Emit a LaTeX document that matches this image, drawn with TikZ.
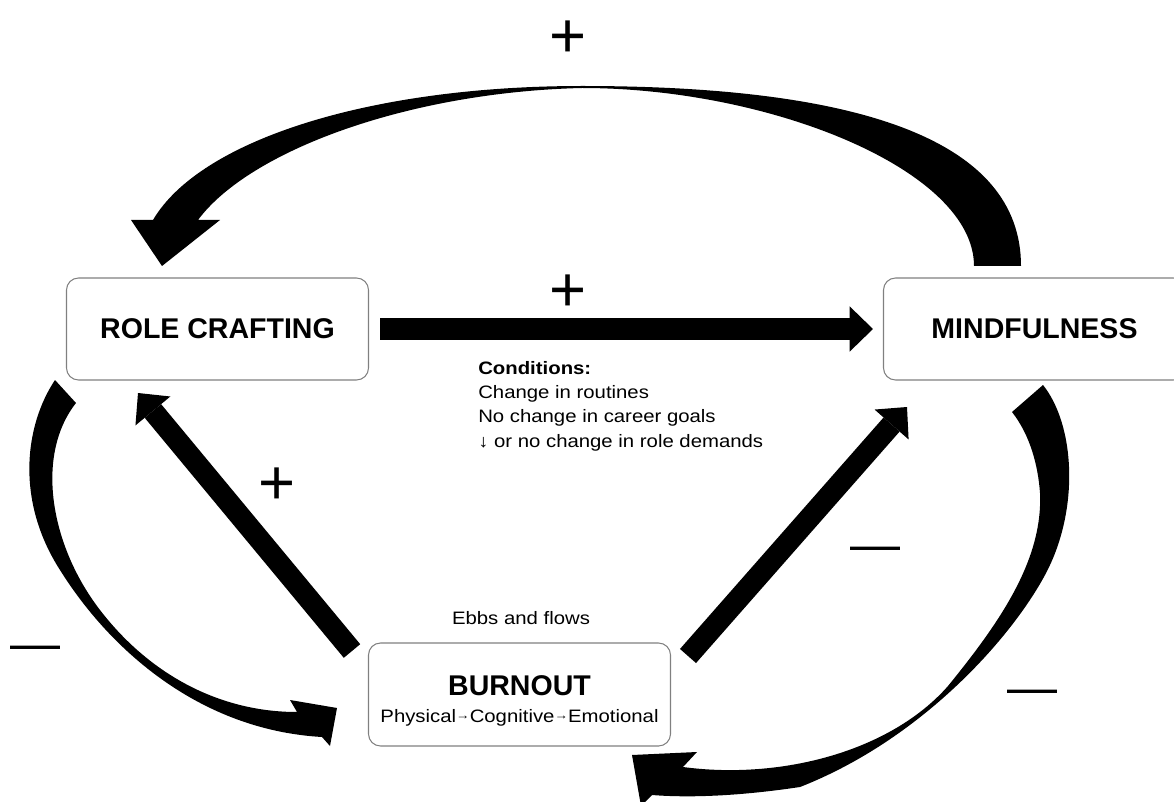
\documentclass[tikz,border=0pt]{standalone}
\usepackage{fontspec}
\setmainfont{Liberation Sans}
\newfontfamily\smallsans[FakeStretch=1.13]{Liberation Sans}
\usetikzlibrary{arrows.meta}
\definecolor{boxgray}{RGB}{128,128,128}
\newcommand{\smallarr}{\raisebox{1.8pt}{\fontsize{9}{9}\selectfont →}}

\begin{document}
\begin{tikzpicture}[x=0.75pt,y=0.75pt,yscale=-1,xscale=1,
    box/.style={draw=boxgray, line width=0.8pt, rounded corners=9pt, minimum width=226.5pt, minimum height=76.5pt, inner sep=0pt, font=\bfseries\fontsize{21.4}{24}\selectfont},
    fatarrow/.style={line width=16pt, -{Triangle[length=17.5pt,width=34pt,line width=0pt]}},
    sign/.style={anchor=base, inner sep=0pt},
    plussign/.style={sign, font=\fontsize{47.6}{48}\selectfont},
    minussign/.style={sign, font=\fontsize{37.5}{38}\selectfont},
    note/.style={inner sep=0pt, font=\smallsans\fontsize{13.5}{18.2}\selectfont},
  ]
  \useasboundingbox (0,0) rectangle (1174,802);

  % Boxes
  \node[box] (rc) at (217.5,329) {ROLE CRAFTING};
  \node[box] (mf) at (1034.5,329) {MINDFULNESS};
  \node[box, minimum height=77.25pt] (bo) at (519.5,694.5) {};
  \node[anchor=base, inner sep=0pt, font=\bfseries\fontsize{21.4}{24}\selectfont] (bo-title) at (519.5,695) {BURNOUT};
  \node[note, anchor=base] (bo-sub) at (519.5,722) {Physical\smallarr Cognitive\smallarr Emotional};
  \node[note, anchor=base] (ebbs) at (521,624) {Ebbs and flows};
  \node[note, anchor=north west, align=left] (cond) at (478,361) {\textbf{Conditions:}\\Change in routines\\No change in career goals\\↓ or no change in role demands};

  % Signs
  \node[plussign] (plus-top) at (568,57.4) {+};
  \node[plussign] (plus-mid) at (568,311.4) {+};
  \node[plussign] (plus-left) at (277.5,504.4) {+};
  \node[minussign] (minus-left) at (35,660.4) {—};
  \node[minussign] (minus-mid) at (875,561.4) {—};
  \node[minussign] (minus-right) at (1032,704.4) {—};

  % Straight arrows
  \coordinate (bo-nw) at (352,651);
  \coordinate (rc-tip) at (138,393);
  \coordinate (bo-ne) at (688,656);
  \coordinate (mf-tip) at (907,407);
  \draw[fatarrow] ([xshift=8.25pt]rc.east) -- ([xshift=-7.5pt]mf.west);
  \draw[fatarrow] (bo-nw) -- (rc-tip);
  \draw[fatarrow] (bo-ne) -- (mf-tip);

  % Curved arrow: mindfulness -> role crafting (top)
  \fill (1021,266) .. controls (1021,140) and (860,86) .. (582,86) .. controls (370,86) and (200,140) .. (153,220)
    -- (131,220) -- (162,266) -- (220,220) -- (198,220)
    .. controls (250,150) and (410,92) .. (582,88) .. controls (770,88) and (974,170) .. (974,266) -- cycle;

  % Curved arrow: role crafting -> burnout (left)
  \fill (55,380) .. controls (25,425) and (15,500) .. (60,570) .. controls (110,650) and (200,730) .. (322,737)
    -- (330,746) -- (337,708) -- (290,700) -- (297,712)
    .. controls (220,712) and (150,675) .. (100,610) .. controls (50,545) and (35,455) .. (76,403) -- cycle;

  % Curved arrow: mindfulness -> burnout (right)
  \fill (1043,385) .. controls (1075,425) and (1080,510) .. (1045,575) .. controls (1010,640) and (920,740) .. (800,787)
    .. controls (740,796) and (690,798) .. (652,795)
    -- (641,806) -- (632,755) -- (697,752) -- (683,767)
    .. controls (780,780) and (890,752) .. (948,686) .. controls (1000,622) and (1043,560) .. (1040,493)
    .. controls (1038,465) and (1030,435) .. (1012,412) -- cycle;

\end{tikzpicture}
\end{document}
